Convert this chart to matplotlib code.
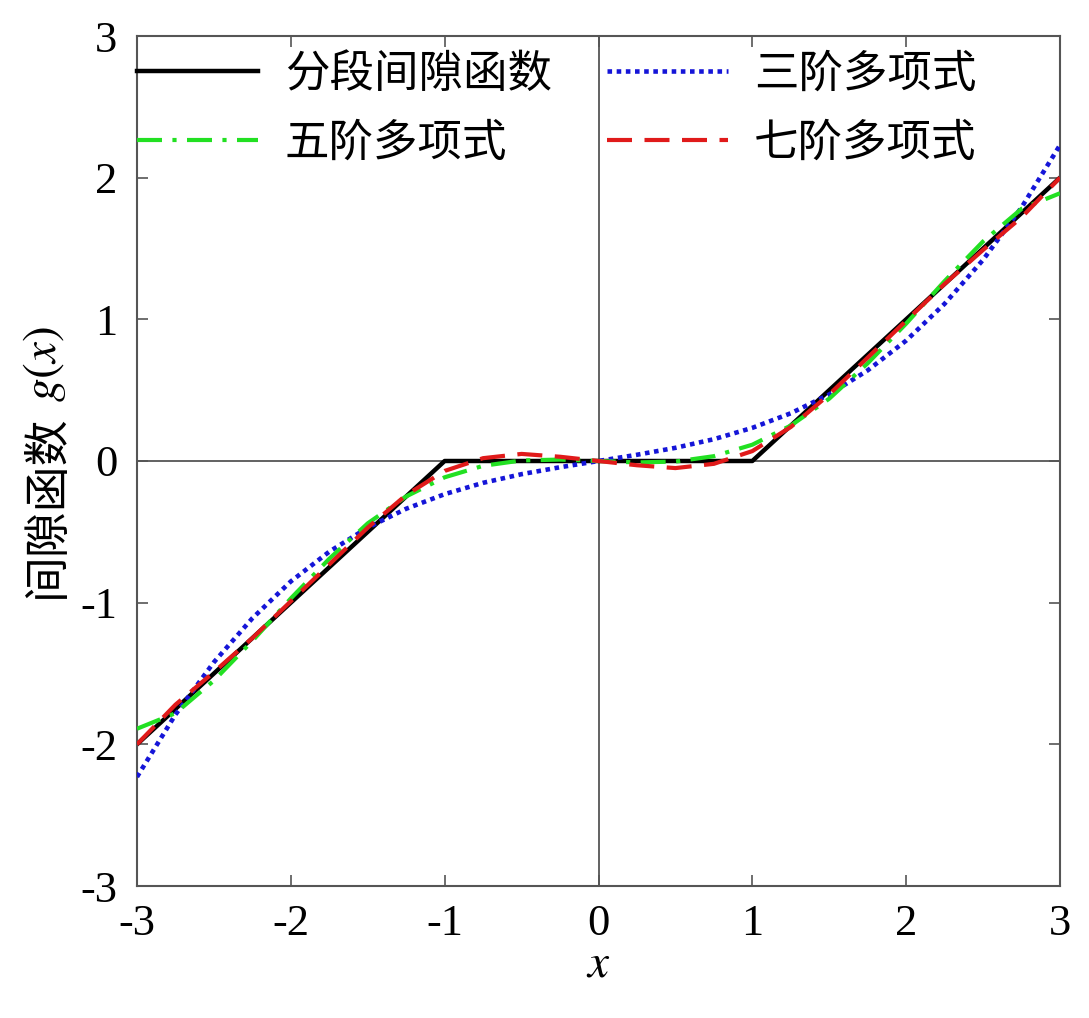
import matplotlib
matplotlib.use('Agg')
import matplotlib.pyplot as plt

plt.rcParams['font.family'] = ['Liberation Serif', 'Noto Sans CJK SC']
plt.rcParams['mathtext.fontset'] = 'stix'
plt.rcParams['axes.unicode_minus'] = False

# piecewise backlash (dead zone) function
x_piece = [-3, -1, 1, 3]
g_piece = [-2, 0, 0, 2]

# polynomial fits at step 0.25
x_fit = [-3.0, -2.75, -2.5, -2.25, -2.0, -1.75, -1.5, -1.25, -1.0, -0.75, -0.5, -0.25,
         0.0, 0.25, 0.5, 0.75, 1.0, 1.25, 1.5, 1.75, 2.0, 2.25, 2.5, 2.75, 3.0]
g_cubic = [-2.23, -1.79, -1.42, -1.11, -0.85, -0.64, -0.47, -0.337, -0.234, -0.154, -0.093, -0.044,
           0.0, 0.044, 0.093, 0.154, 0.234, 0.337, 0.47, 0.64, 0.85, 1.11, 1.42, 1.79, 2.23]
g_quintic = [-1.89, -1.78, -1.55, -1.27, -0.97, -0.69, -0.44, -0.25, -0.115, -0.034, 0.004, 0.01,
             0.0, -0.01, -0.004, 0.034, 0.115, 0.25, 0.44, 0.69, 0.97, 1.27, 1.55, 1.78, 1.89]
g_septic = [-2.0, -1.72, -1.49, -1.25, -0.99, -0.73, -0.47, -0.24, -0.07, 0.02, 0.05, 0.03,
            0.0, -0.03, -0.05, -0.02, 0.07, 0.24, 0.47, 0.73, 0.99, 1.25, 1.49, 1.72, 2.0]

labels = ['分段间隙函数', '三阶多项式', '五阶多项式', '七阶多项式']

fig = plt.figure(figsize=(10.89, 10.18), dpi=100)
ax = fig.add_axes([137 / 1089, 132 / 1018, 923 / 1089, 850 / 1018])

ax.axhline(0, color='#555555', lw=1.3, zorder=1)
ax.axvline(0, color='#555555', lw=1.3, zorder=1)

l_black, = ax.plot(x_piece, g_piece, color='black', lw=3.2, label=labels[0], zorder=2)
l_blue, = ax.plot(x_fit, g_cubic, color='#1515d8', lw=3.3, dashes=(1, 1), label=labels[1], zorder=3)
l_green, = ax.plot(x_fit, g_quintic, color='#22e022', lw=3.0, dashes=(6, 2.5, 1, 2.5),
                   label=labels[2], zorder=4)
l_red, = ax.plot(x_fit, g_septic, color='#e01a1a', lw=3.0, dashes=(6, 3), label=labels[3], zorder=5)

ax.set_xlim(-3, 3)
ax.set_ylim(-3, 3)
ax.set_xticks(range(-3, 4))
ax.set_yticks(range(-3, 4))
ax.tick_params(direction='in', length=8, width=1.2, colors='#555555', labelcolor='black',
               labelsize=32, top=True, right=True)
ax.tick_params(axis='x', pad=13)
ax.tick_params(axis='y', pad=14)
for s in ax.spines.values():
    s.set_color('#555555')
    s.set_linewidth(1.5)

ax.set_xlabel('$x$', fontsize=34, labelpad=0)

# y label in two parts: Chinese text + italic g(x)
fig.text(47 / 1089, 1 - 506 / 1018, '间隙函数', rotation=90, ha='center', va='center',
         fontsize=33, family=['Noto Sans CJK SC'])
fig.text(45 / 1089, 1 - 364 / 1018, '$g(x)$', rotation=90, ha='center', va='center',
         fontsize=34)

ax.legend(handles=[l_black, l_green, l_blue, l_red], ncol=2, loc='upper left',
          bbox_to_anchor=(0.0, 1 - 18 / 850), frameon=False, fontsize=32,
          handlelength=2.72, handletextpad=0.6, columnspacing=1.24, labelspacing=0.62,
          borderpad=0, borderaxespad=0)

fig.savefig('out.png', dpi=100)
